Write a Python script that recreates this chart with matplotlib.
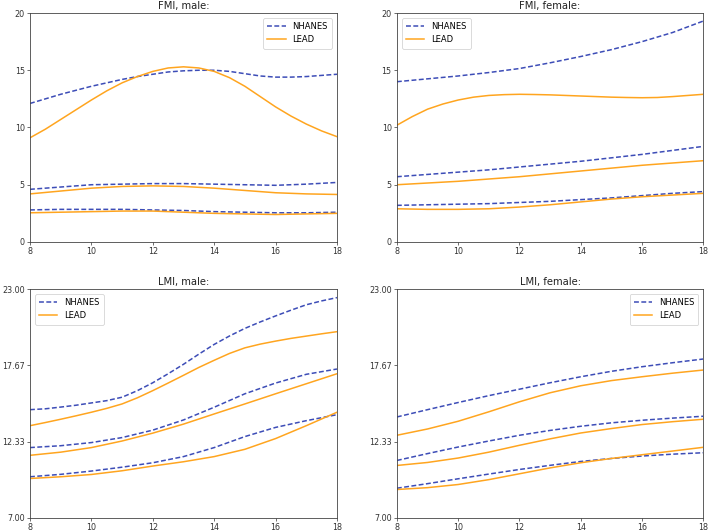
import matplotlib
matplotlib.use("Agg")
import matplotlib.pyplot as plt

ages = [8, 9, 10, 11, 12, 13, 14, 15, 16, 17, 18]
ages_fine = [8, 8.5, 9, 9.5, 10, 10.5, 11, 11.5, 12, 12.5, 13, 13.5,
             14, 14.5, 15, 15.5, 16, 16.5, 17, 17.5, 18]

# FMI, male
fmi_m_nh_up = [12.1, 12.5, 12.9, 13.25, 13.6, 13.9, 14.2, 14.45, 14.65, 14.85, 14.95,
               15.0, 15.0, 14.9, 14.7, 14.5, 14.4, 14.4, 14.45, 14.55, 14.65]
fmi_m_nh_mid = [4.6, 4.8, 5.0, 5.05, 5.1, 5.1, 5.05, 5.0, 4.95, 5.05, 5.2]
fmi_m_nh_low = [2.8, 2.85, 2.85, 2.85, 2.8, 2.75, 2.65, 2.6, 2.55, 2.55, 2.6]
fmi_m_ld_up = [9.1, 9.85, 10.7, 11.55, 12.4, 13.2, 13.9, 14.45, 14.9, 15.2, 15.3,
               15.2, 14.9, 14.35, 13.6, 12.7, 11.8, 11.0, 10.3, 9.7, 9.2]
fmi_m_ld_mid = [4.2, 4.45, 4.7, 4.85, 4.9, 4.85, 4.7, 4.5, 4.3, 4.2, 4.15]
fmi_m_ld_low = [2.55, 2.6, 2.65, 2.7, 2.7, 2.6, 2.5, 2.45, 2.4, 2.45, 2.5]

# FMI, female
fmi_f_nh_up = [14.0, 14.25, 14.5, 14.8, 15.15, 15.65, 16.2, 16.8, 17.5, 18.3, 19.3]
fmi_f_nh_mid = [5.7, 5.9, 6.1, 6.3, 6.55, 6.8, 7.05, 7.35, 7.65, 8.0, 8.35]
fmi_f_nh_low = [3.2, 3.25, 3.3, 3.35, 3.45, 3.55, 3.7, 3.85, 4.05, 4.25, 4.4]
fmi_f_ld_up = [10.2, 10.95, 11.6, 12.05, 12.4, 12.65, 12.8, 12.87, 12.9, 12.88, 12.85,
               12.8, 12.75, 12.7, 12.65, 12.62, 12.6, 12.62, 12.7, 12.8, 12.9]
fmi_f_ld_mid = [5.0, 5.15, 5.3, 5.5, 5.7, 5.95, 6.2, 6.45, 6.7, 6.9, 7.1]
fmi_f_ld_low = [2.9, 2.85, 2.85, 2.9, 3.05, 3.25, 3.5, 3.75, 3.95, 4.1, 4.25]

# LMI, male
lmi_m_nh_up = [14.57, 14.63, 14.75, 14.88, 15.04, 15.2, 15.44, 15.9, 16.45, 17.08, 17.74,
               18.45, 19.13, 19.72, 20.25, 20.7, 21.12, 21.52, 21.9, 22.17, 22.4]
lmi_m_nh_mid = [11.92, 12.05, 12.27, 12.62, 13.14, 13.85, 14.74, 15.68, 16.43, 17.04, 17.41]
lmi_m_nh_low = [9.88, 10.05, 10.28, 10.55, 10.86, 11.29, 11.92, 12.69, 13.33, 13.8, 14.22]
lmi_m_ld_up = [13.45, 13.67, 13.9, 14.14, 14.39, 14.66, 14.97, 15.4, 15.9, 16.43, 16.97,
               17.52, 18.02, 18.5, 18.89, 19.15, 19.36, 19.55, 19.71, 19.87, 20.02]
lmi_m_ld_mid = [11.38, 11.6, 11.92, 12.38, 12.93, 13.56, 14.27, 14.97, 15.68, 16.38, 17.08]
lmi_m_ld_low = [9.76, 9.88, 10.04, 10.3, 10.63, 10.93, 11.29, 11.8, 12.55, 13.45, 14.39]

# LMI, female
lmi_f_nh_up = [14.06, 14.57, 15.07, 15.55, 16.0, 16.45, 16.87, 17.25, 17.57, 17.85, 18.11]
lmi_f_nh_mid = [11.02, 11.5, 11.96, 12.38, 12.78, 13.12, 13.41, 13.65, 13.83, 13.98, 14.11]
lmi_f_nh_low = [9.08, 9.4, 9.74, 10.07, 10.39, 10.68, 10.95, 11.16, 11.33, 11.46, 11.56]
lmi_f_ld_up = [12.78, 13.22, 13.76, 14.42, 15.12, 15.75, 16.24, 16.6, 16.87, 17.12, 17.34]
lmi_f_ld_mid = [10.67, 10.88, 11.19, 11.6, 12.08, 12.53, 12.94, 13.25, 13.53, 13.73, 13.9]
lmi_f_ld_low = [8.99, 9.12, 9.34, 9.68, 10.09, 10.5, 10.86, 11.16, 11.42, 11.68, 11.94]

xticks = [8, 10, 12, 14, 16, 18]
fmi_yticks = [0, 5, 10, 15, 20]
lmi_yticks = [7.00, 12.33, 17.67, 23.00]
lmi_yticklabels = ["7.00", "12.33", "17.67", "23.00"]

NH_COLOR = "#3d4db7"
LD_COLOR = "#ffa51f"


def xs_for(s):
    return ages_fine if len(s) == len(ages_fine) else ages


fig = plt.figure(figsize=(7.09, 5.31), dpi=100)

panels = [
    ("FMI, male:", [0.0423, 0.5443, 0.4330, 0.4312],
     (fmi_m_nh_up, fmi_m_nh_mid, fmi_m_nh_low),
     (fmi_m_ld_up, fmi_m_ld_mid, fmi_m_ld_low), "fmi", "upper right"),
    ("FMI, female:", [0.5598, 0.5443, 0.4322, 0.4312],
     (fmi_f_nh_up, fmi_f_nh_mid, fmi_f_nh_low),
     (fmi_f_ld_up, fmi_f_ld_mid, fmi_f_ld_low), "fmi", "upper left"),
    ("LMI, male:", [0.0423, 0.0245, 0.4330, 0.4312],
     (lmi_m_nh_up, lmi_m_nh_mid, lmi_m_nh_low),
     (lmi_m_ld_up, lmi_m_ld_mid, lmi_m_ld_low), "lmi", "upper left"),
    ("LMI, female:", [0.5598, 0.0245, 0.4322, 0.4312],
     (lmi_f_nh_up, lmi_f_nh_mid, lmi_f_nh_low),
     (lmi_f_ld_up, lmi_f_ld_mid, lmi_f_ld_low), "lmi", "upper right"),
]

for title, rect, nh, ld, kind, loc in panels:
    ax = fig.add_axes(rect)
    for i, s in enumerate(nh):
        ax.plot(xs_for(s), s, color=NH_COLOR, ls=(0, (3.2, 1.6)), lw=1.1,
                label="NHANES" if i == 0 else None)
    for i, s in enumerate(ld):
        ax.plot(xs_for(s), s, color=LD_COLOR, ls="-", lw=1.1,
                label="LEAD" if i == 0 else None)
    ax.set_xlim(8, 18)
    ax.set_xticks(xticks)
    if kind == "fmi":
        ax.set_ylim(0, 20)
        ax.set_yticks(fmi_yticks)
    else:
        ax.set_ylim(7, 23)
        ax.set_yticks(lmi_yticks)
        ax.set_yticklabels(lmi_yticklabels)
    ax.set_title(title, fontsize=7.2, pad=3, color="#222222")
    ax.tick_params(labelsize=5.8, length=2.2, width=0.5, pad=1.5,
                   colors="#333333")
    for sp in ax.spines.values():
        sp.set_linewidth(0.6)
        sp.set_color("#444444")
    leg = ax.legend(loc=loc, fontsize=6, handlelength=2.2, borderpad=0.5,
                    labelspacing=0.5, handletextpad=0.8, borderaxespad=0.6,
                    framealpha=1)
    leg.get_frame().set_linewidth(0.5)
    leg.get_frame().set_edgecolor("#cccccc")

fig.savefig("out.png", dpi=100)
